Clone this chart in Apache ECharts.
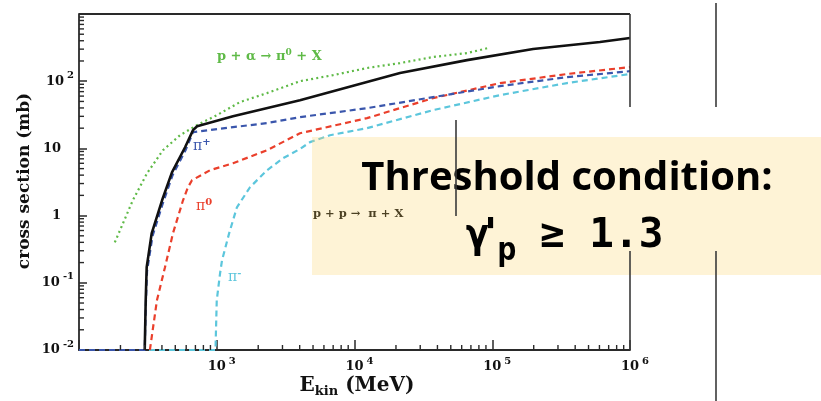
<!DOCTYPE html>
<html>
<head>
<meta charset="utf-8">
<script src="https://cdn.jsdelivr.net/npm/echarts@6/dist/echarts.min.js"></script>
<style>
  html, body { margin: 0; padding: 0; background: #ffffff; }
  #chart { width: 821px; height: 401px; }
</style>
</head>
<body>
<div id="chart"></div>
<script>
// Pion production cross sections (mb) vs proton kinetic energy (MeV)

// p + p -> pi + X, total
const ppTotalE  = [300, 305, 310, 337, 401, 473, 589, 673, 720, 1312, 4018, 21400, 65600, 198000, 605000, 1000000];
const ppTotalXs = [0.01, 0.055, 0.17, 0.545, 1.69, 4.4, 10.4, 18.7, 21.4, 30.0, 52.2, 132, 206, 301, 383, 439];

// p + p -> pi+ + X
const ppPiPlusE  = [100, 300, 306, 312, 342, 405, 478, 595, 673, 1312, 2317, 4018, 12330, 37150, 113800, 349000, 1000000];
const ppPiPlusXs = [0.01, 0.01, 0.05, 0.15, 0.5, 1.5, 4.0, 9.5, 17.4, 20.7, 23.8, 29.2, 39.7, 57.9, 84.5, 115, 141];

// p + p -> pi0 + X
const ppPiZeroE  = [327, 368, 421, 481, 569, 618, 661, 893, 1312, 2317, 4018, 12330, 37150, 113800, 349000, 1000000];
const ppPiZeroXs = [0.01, 0.055, 0.17, 0.545, 1.69, 2.64, 3.36, 4.73, 6.02, 9.4, 16.8, 28.2, 56, 93.5, 128, 162];

// p + p -> pi- + X
const ppPiMinusE  = [100, 979, 1000, 1057, 1092, 1230, 1401, 1743, 2317, 3029, 4018, 4753, 6637, 12330, 37150, 113800, 349000, 1000000];
const ppPiMinusXs = [0.01, 0.01, 0.055, 0.138, 0.216, 0.545, 1.33, 2.64, 4.73, 7.14, 9.8, 12.4, 15.7, 20.0, 37.1, 62.1, 93.8, 128];

// p + alpha -> pi0 + X
const paPiZeroE  = [182, 246, 312, 407, 541, 720, 1004, 1476, 2317, 4018, 6980, 12330, 21380, 37150, 65600, 93100];
const paPiZeroXs = [0.40, 1.69, 4.27, 9.4, 15.7, 22.2, 31.3, 48.9, 66.5, 100, 123, 157, 186, 229, 262, 311];

// Axis ranges and tick labels
const xRange = [100, 1000000];
const yRange = [0.01, 1000];
const xTickValues = [1000, 10000, 100000, 1000000];
const xTickBase   = ['10', '10', '10', '10'];
const xTickExp    = ['3', '4', '5', '6'];
const yTickValues = [0.01, 0.1, 1, 10, 100];
const yTickBase   = ['10', '10', '1', '10', '10'];
const yTickExp    = ['-2', '-1', '', '', '2'];
const minorSteps  = [2, 3, 4, 5, 6, 7, 8, 9];

// Plot frame in pixels
const plot = { left: 79, top: 14, right: 630, bottom: 350 };
const W = 821, H = 401;

const SERIF = "'DejaVu Serif', 'Liberation Serif', serif";
const MONO = "'DejaVu Sans Mono', monospace";
const AXIS_COLOR = '#2a2a2a';
const TICK_COLOR = '#2a2a2a';

const pairs = (xs, ys) => xs.map((x, i) => [x, ys[i]]);

function minorValues(range) {
  const out = [];
  const d0 = Math.round(Math.log10(range[0]));
  const d1 = Math.round(Math.log10(range[1]));
  for (let d = d0; d < d1; d++) {
    minorSteps.forEach(k => out.push(k * Math.pow(10, d)));
  }
  return out;
}

function tickIndex(list, v) {
  return list.findIndex(t => Math.abs(Math.log10(t) - Math.log10(v)) < 1e-6);
}

const labelRich = {
  b:  { fontFamily: SERIF, fontWeight: 'bold', fontSize: 13, lineHeight: 22, color: '#111' },
  bx: { fontFamily: SERIF, fontWeight: 'bold', fontSize: 13, lineHeight: 22, color: '#111', padding: [0, 0, 0, 10] },
  p:  { fontFamily: SERIF, fontWeight: 'bold', fontSize: 13, lineHeight: 22, color: '#111', padding: [0, 13, 0, 0] },
  s:  { fontFamily: SERIF, fontWeight: 'bold', fontSize: 10, lineHeight: 12, color: '#111', verticalAlign: 'top', padding: [0, 0, 0, 3] }
};

function curve(name, xs, ys, color, width, dash, z) {
  return {
    name: name,
    type: 'line',
    data: pairs(xs, ys),
    showSymbol: false,
    symbol: 'none',
    z: z,
    lineStyle: { color: color, width: width, type: dash, cap: 'butt' },
    animation: false
  };
}

function vline(x, y1, y2, z) {
  return { type: 'line', z: z, silent: true,
    shape: { x1: x, y1: y1, x2: x, y2: y2 },
    style: { stroke: '#3a3a3a', lineWidth: 1.6 } };
}

function richText(x, y, text, rich, z) {
  return { type: 'text', z: z, x: x, y: y, silent: true,
    style: { text: text, verticalAlign: 'middle', rich: rich } };
}

function piLabel(x, y, sup, color) {
  return richText(x, y, '{a|π}{s|' + sup + '}', {
    a: { fontFamily: SERIF, fontSize: 14, lineHeight: 18, fill: color },
    s: { fontFamily: SERIF, fontWeight: 'bold', fontSize: 10, lineHeight: 10, verticalAlign: 'top', fill: color }
  }, 20);
}

const baseGraphic = [
  // frame: top and right edges
  { type: 'line', z: 20, silent: true,
    shape: { x1: plot.left, y1: plot.top, x2: plot.right, y2: plot.top },
    style: { stroke: AXIS_COLOR, lineWidth: 1.8 } },
  vline(plot.right, plot.top, 107, 20),
  vline(plot.right, 251, plot.bottom, 20),
  // curve labels
  richText(217, 57, '{a|p + α → π}{s|0}{a| + X}', {
    a: { fontFamily: SERIF, fontWeight: 'bold', fontSize: 13, lineHeight: 18, fill: '#5fba47' },
    s: { fontFamily: SERIF, fontWeight: 'bold', fontSize: 9, lineHeight: 10, verticalAlign: 'top', fill: '#5fba47' }
  }, 20),
  piLabel(193, 146, '+', '#3a56ac'),
  piLabel(196, 206, '0', '#ea3f2b'),
  piLabel(228, 277, '-', '#5cc6dc'),
  { type: 'text', z: 9, x: 313, y: 214, silent: true,
    style: { text: 'p + p →  π + X', fontFamily: SERIF, fontWeight: 'bold', fontSize: 11.5,
      fill: '#000000', verticalAlign: 'middle' } },
  // axis titles
  { type: 'text', z: 20, x: 357, y: 386, silent: true,
    style: { text: '{e|E}{k|kin}{r| (MeV)}', align: 'center', verticalAlign: 'middle',
      rich: {
        e: { fontFamily: SERIF, fontWeight: 'bold', fontSize: 20, lineHeight: 24, fill: '#111' },
        k: { fontFamily: SERIF, fontWeight: 'bold', fontSize: 13, lineHeight: 14, verticalAlign: 'bottom', fill: '#111' },
        r: { fontFamily: SERIF, fontWeight: 'bold', fontSize: 20, lineHeight: 24, fill: '#111' }
      } } },
  { type: 'text', z: 20, x: 25, y: 181, rotation: Math.PI / 2, silent: true,
    style: { text: 'cross section (mb)', fontFamily: SERIF, fontWeight: 'bold', fontSize: 17,
      fill: '#111', align: 'center', verticalAlign: 'middle' } },
  // highlighted note box
  { type: 'rect', z: 10, silent: true,
    shape: { x: 312, y: 137, width: W - 312, height: 138 },
    style: { fill: 'rgba(252, 215, 118, 0.3)' } },
  { type: 'text', z: 30, x: 567, y: 179, silent: true,
    style: { text: 'Threshold condition:', fontFamily: "'Open Sans', 'Lato', sans-serif", fontWeight: 'bold',
      fontSize: 40, fill: '#000000', align: 'center', verticalAlign: 'middle' } },
  { type: 'text', z: 30, x: 477.5, y: 236, silent: true,
    style: { text: 'γ', fontFamily: MONO, fontWeight: 'bold',
      fontSize: 41, fill: '#000000', align: 'center', verticalAlign: 'middle' } },
  { type: 'text', z: 30, x: 490.5, y: 236, silent: true,
    style: { text: "'", fontFamily: MONO, fontWeight: 'bold',
      fontSize: 41, fill: '#000000', align: 'center', verticalAlign: 'middle' } },
  { type: 'text', z: 30, x: 507, y: 252, silent: true,
    style: { text: 'p', fontFamily: MONO, fontWeight: 'bold',
      fontSize: 32, fill: '#000000', align: 'center', verticalAlign: 'middle' } },
  { type: 'text', z: 30, x: 540, y: 236, silent: true,
    style: { text: '≥ 1.3', fontFamily: MONO, fontWeight: 'bold',
      fontSize: 41, fill: '#000000', align: 'left', verticalAlign: 'middle' } },
  // separator lines
  vline(456, 120, 216, 40),
  vline(716, 3, 107, 40),
  vline(716, 251, H, 40)
];

const chart = echarts.init(document.getElementById('chart'), null, { renderer: 'canvas' });

chart.setOption({
  backgroundColor: '#ffffff',
  animation: false,
  grid: { left: plot.left, top: plot.top, right: W - plot.right, bottom: H - plot.bottom, containLabel: false },
  xAxis: {
    type: 'log', logBase: 10, min: xRange[0], max: xRange[1], splitNumber: 4,
    axisLine: { show: true, lineStyle: { color: AXIS_COLOR, width: 1.8 } },
    axisTick: { show: true, inside: true, length: 10, lineStyle: { color: TICK_COLOR, width: 1.5 } },
    minorTick: { show: false },
    splitLine: { show: false },
    axisLabel: {
      margin: 6,
      formatter: function (v) {
        const i = tickIndex(xTickValues, v);
        if (i < 0) return '';
        return '{bx|' + xTickBase[i] + '}{s|' + xTickExp[i] + '}';
      },
      rich: labelRich
    }
  },
  yAxis: {
    type: 'log', logBase: 10, min: yRange[0], max: yRange[1], splitNumber: 5,
    axisLine: { show: true, lineStyle: { color: AXIS_COLOR, width: 1.8 } },
    axisTick: { show: true, inside: true, length: 8, lineStyle: { color: TICK_COLOR, width: 1.5 } },
    minorTick: { show: false },
    splitLine: { show: false },
    axisLabel: {
      margin: 5,
      formatter: function (v) {
        const i = tickIndex(yTickValues, v);
        if (i < 0) return '';
        if (yTickExp[i] === '') return '{p|' + yTickBase[i] + '}';
        return '{b|' + yTickBase[i] + '}{s|' + yTickExp[i] + '}';
      },
      rich: labelRich
    }
  },
  series: [
    curve('p + α → π0 + X', paPiZeroE, paPiZeroXs, '#5fba47', 2.2, [2, 3.2], 4),
    curve('π-', ppPiMinusE, ppPiMinusXs, '#5cc6dc', 2.2, [6, 4], 5),
    curve('π0', ppPiZeroE, ppPiZeroXs, '#ea3f2b', 2.2, [6, 4], 6),
    curve('π+', ppPiPlusE, ppPiPlusXs, '#3a56ac', 2.2, [6, 4], 7),
    curve('total', ppTotalE, ppTotalXs, '#111111', 2.6, 'solid', 8)
  ],
  graphic: baseGraphic
});

// Minor ticks at 2..9 of every decade, placed through the axes' own log scales
const minorTicks = [];
minorValues(xRange).forEach(v => {
  const p = chart.convertToPixel({ gridIndex: 0 }, [v, yRange[0]]);
  minorTicks.push({ type: 'line', z: 20, silent: true,
    shape: { x1: p[0], y1: p[1], x2: p[0], y2: p[1] - 5 },
    style: { stroke: TICK_COLOR, lineWidth: 1.4 } });
});
minorValues(yRange).forEach(v => {
  const p = chart.convertToPixel({ gridIndex: 0 }, [xRange[0], v]);
  minorTicks.push({ type: 'line', z: 20, silent: true,
    shape: { x1: p[0], y1: p[1], x2: p[0] + 5, y2: p[1] },
    style: { stroke: TICK_COLOR, lineWidth: 1.4 } });
});
chart.setOption({ graphic: baseGraphic.concat(minorTicks) });
</script>
</body>
</html>
